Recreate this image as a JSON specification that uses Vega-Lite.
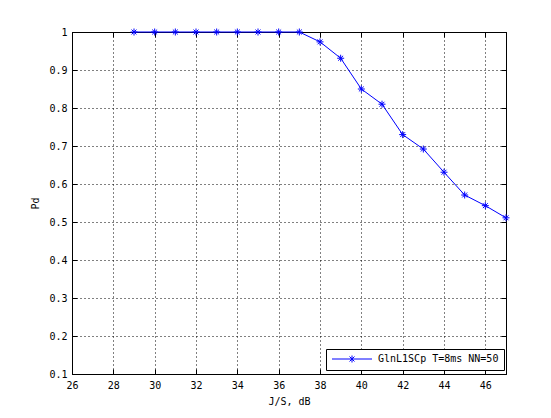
{
  "$schema": "https://vega.github.io/schema/vega-lite/v6.json",
  "width": 434,
  "height": 342,
  "autosize": {"type": "none"},
  "padding": {"left": 72, "top": 32, "right": 45, "bottom": 44},
  "background": "white",
  "config": {
    "font": "DejaVu Sans Mono",
    "view": {"stroke": "black", "strokeWidth": 1},
    "axis": {
      "domainColor": "black",
      "domainWidth": 1,
      "tickColor": "black",
      "tickSize": -5,
      "tickWidth": 1,
      "labelColor": "black",
      "labelFontSize": 10,
      "labelFont": "DejaVu Sans Mono",
      "titleColor": "black",
      "titleFontSize": 10,
      "titleFont": "DejaVu Sans Mono",
      "titleFontWeight": "normal",
      "gridColor": "black",
      "gridDash": [1, 3],
      "gridOpacity": 1,
      "gridWidth": 1
    },
    "legend": {
      "labelFont": "DejaVu Sans Mono",
      "labelFontSize": 10,
      "labelColor": "black"
    }
  },
  "data": {
    "values": [
      {"js": 29, "pd": 1.0, "series": "GlnL1SCp T=8ms NN=50"},
      {"js": 30, "pd": 1.0, "series": "GlnL1SCp T=8ms NN=50"},
      {"js": 31, "pd": 1.0, "series": "GlnL1SCp T=8ms NN=50"},
      {"js": 32, "pd": 1.0, "series": "GlnL1SCp T=8ms NN=50"},
      {"js": 33, "pd": 1.0, "series": "GlnL1SCp T=8ms NN=50"},
      {"js": 34, "pd": 1.0, "series": "GlnL1SCp T=8ms NN=50"},
      {"js": 35, "pd": 1.0, "series": "GlnL1SCp T=8ms NN=50"},
      {"js": 36, "pd": 1.0, "series": "GlnL1SCp T=8ms NN=50"},
      {"js": 37, "pd": 1.0, "series": "GlnL1SCp T=8ms NN=50"},
      {"js": 38, "pd": 0.974, "series": "GlnL1SCp T=8ms NN=50"},
      {"js": 39, "pd": 0.931, "series": "GlnL1SCp T=8ms NN=50"},
      {"js": 40, "pd": 0.85, "series": "GlnL1SCp T=8ms NN=50"},
      {"js": 41, "pd": 0.81, "series": "GlnL1SCp T=8ms NN=50"},
      {"js": 42, "pd": 0.73, "series": "GlnL1SCp T=8ms NN=50"},
      {"js": 43, "pd": 0.692, "series": "GlnL1SCp T=8ms NN=50"},
      {"js": 44, "pd": 0.631, "series": "GlnL1SCp T=8ms NN=50"},
      {"js": 45, "pd": 0.571, "series": "GlnL1SCp T=8ms NN=50"},
      {"js": 46, "pd": 0.543, "series": "GlnL1SCp T=8ms NN=50"},
      {"js": 47, "pd": 0.511, "series": "GlnL1SCp T=8ms NN=50"}
    ]
  },
  "layer": [
    {
      "mark": {"type": "line", "color": "#0000ff", "strokeWidth": 1},
      "encoding": {
        "x": {
          "field": "js",
          "type": "quantitative",
          "scale": {"domain": [26, 47], "nice": false, "zero": false},
          "axis": {
            "orient": "bottom",
            "title": "J/S, dB",
            "values": [26, 28, 30, 32, 34, 36, 38, 40, 42, 44, 46],
            "grid": true,
            "labelPadding": 11,
            "titlePadding": 6,
            "labelFlush": false,
            "labelOverlap": false
          }
        },
        "y": {
          "field": "pd",
          "type": "quantitative",
          "scale": {"domain": [0.1, 1], "nice": false, "zero": false},
          "axis": {
            "orient": "left",
            "title": "Pd",
            "values": [0.1, 0.2, 0.3, 0.4, 0.5, 0.6, 0.7, 0.8, 0.9, 1],
            "format": ".1~f",
            "grid": true,
            "labelPadding": 10,
            "titlePadding": 8,
            "labelFlush": false,
            "labelOverlap": false
          }
        },
        "color": {
          "field": "series",
          "type": "nominal",
          "scale": {"range": ["#0000ff"]},
          "legend": {
            "title": null,
            "orient": "none",
            "legendX": 254,
            "legendY": 317,
            "padding": 5,
            "strokeColor": "black",
            "fillColor": "white",
            "cornerRadius": 0,
            "symbolType": "M-1,0H9M4,-0.875V0.875M3.38,-0.62L4.62,0.62M3.38,0.62L4.62,-0.62",
            "symbolSize": 64,
            "symbolStrokeColor": "#0000ff",
            "symbolFillColor": "transparent",
            "symbolStrokeWidth": 1,
            "labelOffset": 37
          }
        }
      }
    },
    {
      "mark": {
        "type": "point",
        "shape": "M-1,0H1M0,-1V1M-0.7,-0.7L0.7,0.7M-0.7,0.7L0.7,-0.7",
        "filled": false,
        "size": 49,
        "strokeWidth": 1,
        "opacity": 1
      },
      "encoding": {
        "x": {
          "field": "js",
          "type": "quantitative",
          "axis": {
            "orient": "top",
            "title": null,
            "values": [26, 28, 30, 32, 34, 36, 38, 40, 42, 44, 46],
            "labels": false,
            "grid": false
          }
        },
        "y": {
          "field": "pd",
          "type": "quantitative",
          "axis": {
            "orient": "right",
            "title": null,
            "values": [0.1, 0.2, 0.3, 0.4, 0.5, 0.6, 0.7, 0.8, 0.9, 1],
            "labels": false,
            "grid": false
          }
        },
        "color": {
          "field": "series",
          "type": "nominal",
          "scale": {"range": ["#0000ff"]},
          "legend": {
            "title": null,
            "orient": "none",
            "legendX": 254,
            "legendY": 317,
            "symbolType": "M-1,0H9M4,-0.875V0.875M3.38,-0.62L4.62,0.62M3.38,0.62L4.62,-0.62",
            "symbolSize": 64
          }
        }
      }
    }
  ],
  "resolve": {"axis": {"x": "independent", "y": "independent"}}
}
